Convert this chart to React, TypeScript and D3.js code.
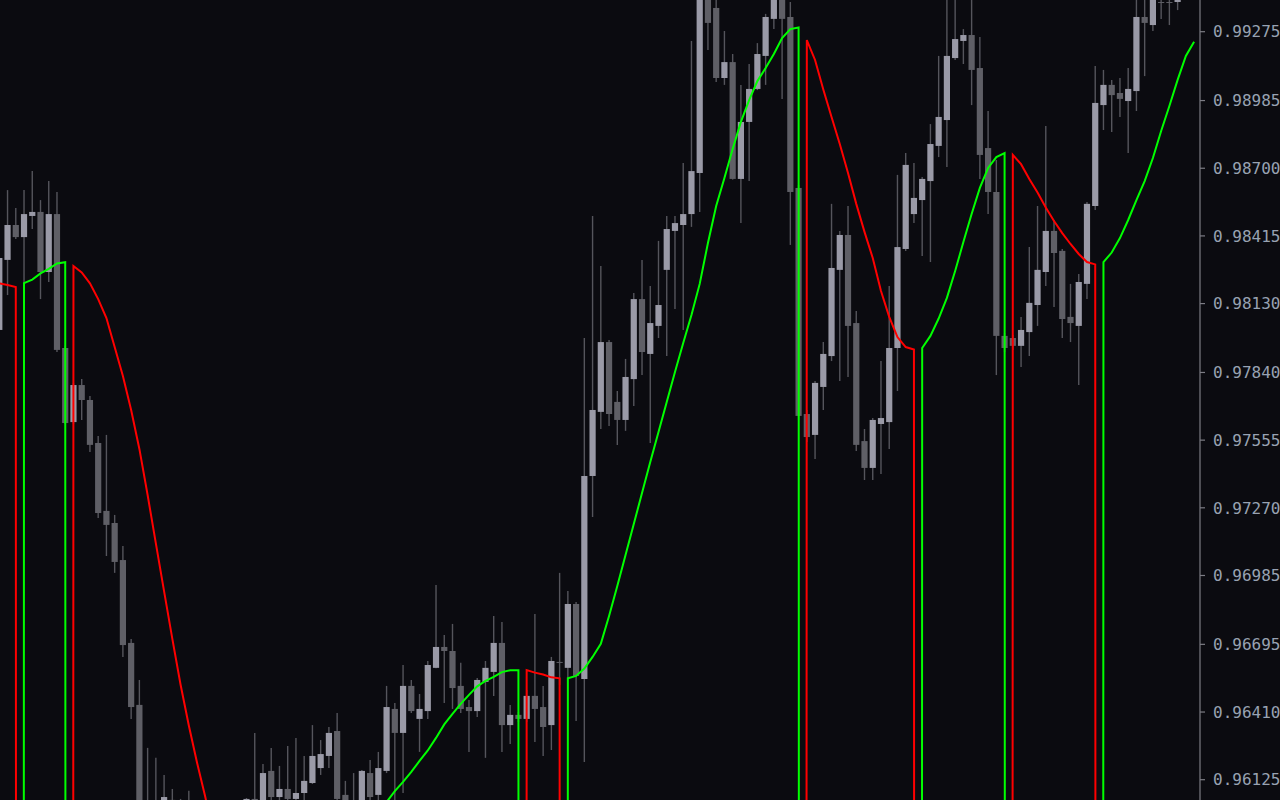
import React from "react"
import * as d3 from "d3"

// bar data, oldest bar first
const opens = [
  0.98019, 0.98314, 0.98461, 0.98410, 0.98499, 0.98516, 0.98263, 0.98507, 0.97943, 0.97631,
  0.97787, 0.97724, 0.97543, 0.97257, 0.97206, 0.97050, 0.96701, 0.96440, 0.95989, 0.95922,
  0.95977, 0.96040, 0.95972, 0.95956, 0.95989, 0.95913, 0.95930, 0.95871, 0.95905, 0.95947,
  0.95977, 0.96044, 0.95989, 0.96162, 0.96052, 0.96086, 0.96044, 0.96069, 0.96111, 0.96174,
  0.96225, 0.96330, 0.96061, 0.96019, 0.95989, 0.96153, 0.96061, 0.96162, 0.96423, 0.96322,
  0.96520, 0.96381, 0.96414, 0.96596, 0.96684, 0.96667, 0.96520, 0.96431, 0.96414, 0.96537,
  0.96579, 0.96701, 0.96355, 0.96398, 0.96381, 0.96478, 0.96431, 0.96355, 0.96621, 0.96596,
  0.96865, 0.96549, 0.97404, 0.97674, 0.97968, 0.97716, 0.97640, 0.97812, 0.98149, 0.97918,
  0.98036, 0.98272, 0.98436, 0.98461, 0.98507, 0.98680, 0.99434, 0.99375, 0.99080, 0.99147,
  0.98655, 0.98895, 0.99034, 0.99173, 0.99329, 0.99430, 0.99337, 0.98617, 0.97665, 0.97577,
  0.97779, 0.97909, 0.98272, 0.98419, 0.98048, 0.97551, 0.97438, 0.97623, 0.97631, 0.97943,
  0.98360, 0.98507, 0.98566, 0.98646, 0.98794, 0.98903, 0.99164, 0.99236, 0.99261, 0.99122,
  0.98785, 0.98600, 0.97994, 0.97985, 0.97952, 0.98010, 0.98124, 0.98263, 0.98436, 0.98352,
  0.98074, 0.98036, 0.98213, 0.98541, 0.98966, 0.99051, 0.99017, 0.98983, 0.99025, 0.99337,
  0.99303, 0.99400, 0.99400, 0.99400, 0.99430, 0.99493,
]
const highs = [
  0.98356, 0.98608, 0.98533, 0.98608, 0.98688, 0.98566, 0.98646, 0.98600, 0.97952, 0.97796,
  0.97812, 0.97741, 0.97572, 0.97577, 0.97240, 0.97109, 0.96718, 0.96545, 0.96259, 0.96217,
  0.96145, 0.96086, 0.96044, 0.96078, 0.96019, 0.95989, 0.95977, 0.95956, 0.95989, 0.96014,
  0.96048, 0.96322, 0.96191, 0.96259, 0.96183, 0.96267, 0.96301, 0.96225, 0.96355, 0.96292,
  0.96347, 0.96406, 0.96120, 0.96153, 0.96166, 0.96208, 0.96242, 0.96520, 0.96448, 0.96608,
  0.96545, 0.96486, 0.96625, 0.96945, 0.96734, 0.96781, 0.96617, 0.96461, 0.96553, 0.96625,
  0.96814, 0.96789, 0.96440, 0.96410, 0.96503, 0.96823, 0.96520, 0.96642, 0.96996, 0.96920,
  0.96873, 0.97985, 0.98499, 0.98288, 0.97977, 0.97762, 0.97897, 0.98175, 0.98314, 0.98204,
  0.98394, 0.98499, 0.98499, 0.98722, 0.99236, 0.99472, 0.99459, 0.99430, 0.99278, 0.99181,
  0.99051, 0.99139, 0.99227, 0.99350, 0.99468, 0.99459, 0.99400, 0.98630, 0.97682, 0.97804,
  0.97968, 0.98550, 0.98436, 0.98541, 0.98099, 0.97602, 0.97648, 0.97888, 0.98204, 0.98672,
  0.98764, 0.98722, 0.98663, 0.98886, 0.99173, 0.99425, 0.99434, 0.99286, 0.99430, 0.99253,
  0.98941, 0.98735, 0.98006, 0.97998, 0.98074, 0.98368, 0.98541, 0.98878, 0.98482, 0.98360,
  0.98213, 0.98255, 0.98558, 0.99131, 0.99114, 0.99072, 0.99080, 0.99122, 0.99425, 0.99425,
  0.99451, 0.99434, 0.99434, 0.99425, 0.99526, 0.99577,
]
const lows = [
  0.97985, 0.98166, 0.98402, 0.98217, 0.98444, 0.98149, 0.98221, 0.97926, 0.97623, 0.97623,
  0.97640, 0.97505, 0.97227, 0.97067, 0.96996, 0.96642, 0.96381, 0.95956, 0.95871, 0.95850,
  0.95947, 0.95913, 0.95892, 0.95880, 0.95863, 0.95838, 0.95808, 0.95829, 0.95850, 0.95892,
  0.95934, 0.95956, 0.95964, 0.96006, 0.96031, 0.96027, 0.96031, 0.96035, 0.96107, 0.96145,
  0.96174, 0.96031, 0.95977, 0.95956, 0.95964, 0.96031, 0.96035, 0.96153, 0.96040, 0.96069,
  0.96406, 0.96242, 0.96381, 0.96594, 0.96448, 0.96423, 0.96406, 0.96242, 0.96389, 0.96217,
  0.96478, 0.96242, 0.96275, 0.96368, 0.96368, 0.96284, 0.96225, 0.96250, 0.96524, 0.96545,
  0.96372, 0.96200, 0.97231, 0.97602, 0.97615, 0.97535, 0.97594, 0.97699, 0.97829, 0.97543,
  0.97985, 0.97909, 0.98107, 0.98019, 0.98453, 0.98516, 0.99198, 0.99063, 0.99051, 0.98652,
  0.98469, 0.98646, 0.99029, 0.99051, 0.99286, 0.98992, 0.98377, 0.97640, 0.97547, 0.97476,
  0.97682, 0.97888, 0.97804, 0.97821, 0.97509, 0.97387, 0.97387, 0.97412, 0.97518, 0.97762,
  0.98352, 0.98469, 0.98330, 0.98305, 0.98747, 0.98705, 0.99156, 0.99139, 0.98966, 0.98655,
  0.98507, 0.97829, 0.97926, 0.97935, 0.97863, 0.97909, 0.98036, 0.98204, 0.98116, 0.97985,
  0.97968, 0.97787, 0.98149, 0.98524, 0.98861, 0.98853, 0.98916, 0.98764, 0.98941, 0.99088,
  0.99278, 0.99329, 0.99303, 0.99366, 0.99417, 0.99459,
]
const closes = [
  0.98322, 0.98461, 0.98410, 0.98507, 0.98516, 0.98263, 0.98507, 0.97935, 0.97627, 0.97787,
  0.97724, 0.97535, 0.97248, 0.97198, 0.97042, 0.96692, 0.96431, 0.95989, 0.95913, 0.95956,
  0.96052, 0.95964, 0.95947, 0.95998, 0.95913, 0.95930, 0.95871, 0.95905, 0.95947, 0.95977,
  0.96044, 0.95989, 0.96153, 0.96052, 0.96086, 0.96044, 0.96069, 0.96120, 0.96225, 0.96233,
  0.96322, 0.96044, 0.96006, 0.95989, 0.96162, 0.96052, 0.96174, 0.96431, 0.96322, 0.96520,
  0.96414, 0.96423, 0.96608, 0.96684, 0.96667, 0.96511, 0.96423, 0.96414, 0.96545, 0.96596,
  0.96701, 0.96355, 0.96398, 0.96381, 0.96478, 0.96423, 0.96347, 0.96625, 0.96617, 0.96865,
  0.96562, 0.97404, 0.97682, 0.97968, 0.97665, 0.97640, 0.97821, 0.98149, 0.97926, 0.98048,
  0.98124, 0.98444, 0.98469, 0.98507, 0.98688, 0.99442, 0.99312, 0.99080, 0.99147, 0.98655,
  0.98895, 0.99034, 0.99181, 0.99337, 0.99434, 0.99329, 0.98600, 0.97657, 0.97568, 0.97796,
  0.97918, 0.98280, 0.98419, 0.98036, 0.97535, 0.97438, 0.97640, 0.97648, 0.97943, 0.98368,
  0.98714, 0.98575, 0.98655, 0.98802, 0.98916, 0.99173, 0.99244, 0.99261, 0.99114, 0.98756,
  0.98600, 0.97994, 0.97943, 0.97952, 0.98019, 0.98133, 0.98272, 0.98436, 0.98343, 0.98065,
  0.98048, 0.98221, 0.98550, 0.98975, 0.99051, 0.99008, 0.98992, 0.99034, 0.99337, 0.99312,
  0.99425, 0.99396, 0.99396, 0.99409, 0.99493, 0.99535,
]

// indicator value per bar
const trendLine = [
  0.98215, 0.98208, 0.98200, 0.98216, 0.98231, 0.98257, 0.98276, 0.98299, 0.98304, 0.98288,
  0.98261, 0.98215, 0.98149, 0.98069, 0.97947, 0.97825, 0.97682, 0.97518, 0.97324, 0.97120,
  0.96918, 0.96718, 0.96525, 0.96353, 0.96196, 0.96052, 0.95892, 0.95762, 0.95661, 0.95593,
  0.95551, 0.95530, 0.95522, 0.95526, 0.95539, 0.95555, 0.95577, 0.95598, 0.95623, 0.95690,
  0.95724, 0.95762, 0.95804, 0.95850, 0.95897, 0.95943, 0.95989, 0.96031, 0.96077, 0.96116,
  0.96158, 0.96204, 0.96248, 0.96301, 0.96358, 0.96402, 0.96444, 0.96482, 0.96518, 0.96541,
  0.96558, 0.96578, 0.96586, 0.96586, 0.96587, 0.96576, 0.96568, 0.96556, 0.96552, 0.96552,
  0.96562, 0.96593, 0.96642, 0.96697, 0.96814, 0.96941, 0.97071, 0.97202, 0.97332, 0.97463,
  0.97589, 0.97716, 0.97842, 0.97964, 0.98082, 0.98213, 0.98385, 0.98541, 0.98659, 0.98781,
  0.98895, 0.98987, 0.99067, 0.99122, 0.99181, 0.99248, 0.99286, 0.99293, 0.99240, 0.99156,
  0.99032, 0.98916, 0.98802, 0.98680, 0.98550, 0.98432, 0.98322, 0.98183, 0.98074, 0.97989,
  0.97947, 0.97937, 0.97943, 0.97994, 0.98067, 0.98154, 0.98267, 0.98389, 0.98507, 0.98617,
  0.98701, 0.98747, 0.98764, 0.98756, 0.98717, 0.98655, 0.98598, 0.98535, 0.98478, 0.98427,
  0.98381, 0.98339, 0.98305, 0.98295, 0.98305, 0.98345, 0.98406, 0.98482, 0.98566, 0.98646,
  0.98743, 0.98857, 0.98962, 0.99072, 0.99173, 0.99233,
]
// bars where the indicator is falling (red); the rest are green
const downRuns = [[0, 2], [9, 38], [64, 68], [98, 111], [123, 133]]

const priceLabels = [
  "0.99275", "0.98985", "0.98700", "0.98415", "0.98130", "0.97840",
  "0.97555", "0.97270", "0.96985", "0.96695", "0.96410", "0.96125",
]

const width = 1280
const height = 800
const plotRight = 1200

const bg = "#0b0b10"
const bullFill = "#9a9aa7"
const bearFill = "#5f5f66"
const wickColor = "#55555c"

const isDown = (i: number) => downRuns.some(([a, b]) => i >= a && i <= b)

// MT4 style buffer: value inside its own run, 0 on the bars next to it, empty elsewhere
const buffer = (down: boolean) =>
  trendLine.map((v, i) => {
    if (isDown(i) === down) return v
    const near = [i - 1, i + 1].some(j => j >= 0 && j < trendLine.length && isDown(j) === down)
    return near ? 0 : null
  })

const App = () => {
  const n = opens.length
  const x = d3.scaleLinear().domain([0, n - 1]).range([-0.7, -0.7 + 8.24 * (n - 1)])
  const y = d3.scaleLinear().domain([0.96125, 0.99275]).range([779.7, 31.7])

  const line = d3.line<number | null>()
    .defined(d => d !== null)
    .x((d, i) => x(i))
    .y(d => y(d as number))

  const redPath = line(buffer(true)) || ""
  const greenPath = line(buffer(false)) || ""

  const bodyW = 6.2

  return (
    <svg width={width} height={height}
      style={{ position: "absolute", left: 0, top: 0, display: "block", background: bg }}>
      <defs>
        <clipPath id="plot">
          <rect x={0} y={0} width={plotRight} height={height} />
        </clipPath>
      </defs>
      <rect x={0} y={0} width={width} height={height} fill={bg} />

      <g clipPath="url(#plot)">
        {opens.map((o, i) => {
          const c = closes[i]
          const top = y(Math.max(o, c))
          const h = Math.max(1, Math.abs(y(o) - y(c)))
          return (
            <g key={i}>
              <line x1={x(i)} x2={x(i)} y1={y(highs[i])} y2={y(lows[i])}
                stroke={wickColor} strokeWidth={1.4} />
              <rect x={x(i) - bodyW / 2} y={top} width={bodyW} height={h}
                fill={c > o ? bullFill : bearFill} />
            </g>
          )
        })}
        <path d={greenPath} fill="none" stroke="#00ff00" strokeWidth={2} />
        <path d={redPath} fill="none" stroke="#ff0000" strokeWidth={2} />
      </g>

      <line x1={plotRight} x2={plotRight} y1={0} y2={height} stroke="#7c7c84" strokeWidth={1.2} />
      {priceLabels.map(t => {
        const ty = y(parseFloat(t))
        return (
          <g key={t}>
            <line x1={plotRight} x2={plotRight + 5} y1={ty} y2={ty} stroke="#7c7c84" strokeWidth={1.2} />
            <text x={1213} y={ty} dy="0.36em" fill="#98a2b2"
              fontFamily="'DejaVu Sans Mono', monospace" fontSize={16}>
              {t}
            </text>
          </g>
        )
      })}
    </svg>
  )
}

export default App
